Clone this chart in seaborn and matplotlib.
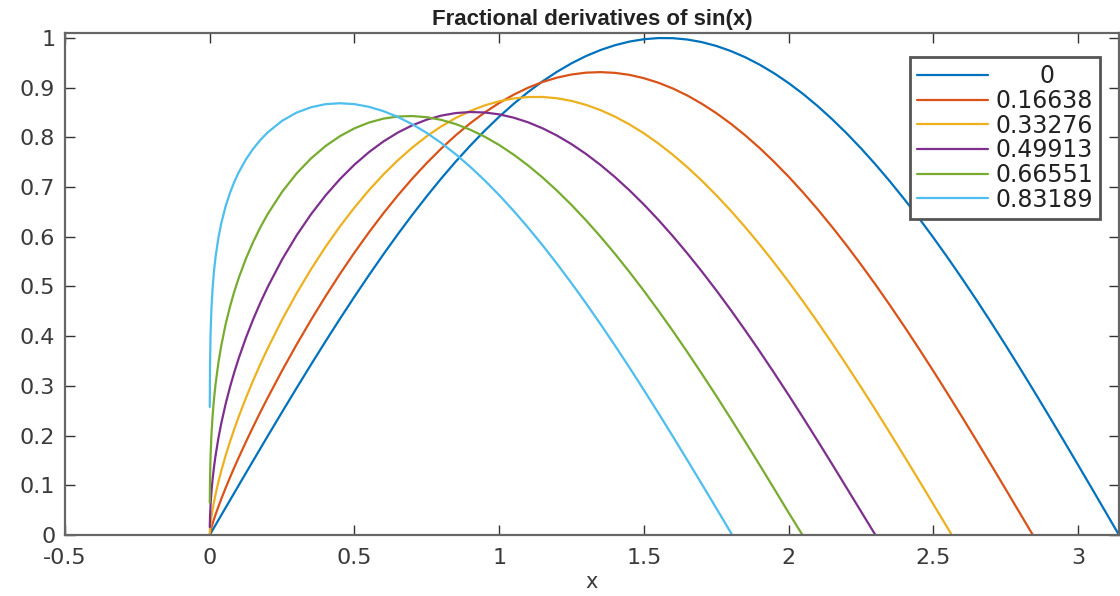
import matplotlib
matplotlib.use("Agg")
import matplotlib.pyplot as plt
import pandas as pd
import seaborn as sns

# Derivative orders shown in the legend and their line colours
orders = ["0", "0.16638", "0.33276", "0.49913", "0.66551", "0.83189"]
colors = ["#0072BD", "#D95319", "#EDB120", "#7E2F8E", "#77AC30", "#4DBEEE"]

# Order 0: sin(x) itself
x_sin = [0.0, 0.05, 0.1, 0.15, 0.2, 0.25, 0.3, 0.35, 0.4, 0.45, 0.5, 0.55, 0.6,
         0.65, 0.7, 0.75, 0.8, 0.85, 0.9, 0.95, 1.0, 1.05, 1.1, 1.15, 1.2, 1.25,
         1.3, 1.35, 1.4, 1.45, 1.5, 1.55, 1.6, 1.65, 1.7, 1.75, 1.8, 1.85, 1.9,
         1.95, 2.0, 2.05, 2.1, 2.15, 2.2, 2.25, 2.3, 2.35, 2.4, 2.45, 2.5, 2.55,
         2.6, 2.65, 2.7, 2.75, 2.8, 2.85, 2.9, 2.95, 3.0, 3.05, 3.1, 3.1416]
y_sin = [0.0, 0.0500, 0.0998, 0.1494, 0.1987, 0.2474, 0.2955, 0.3429, 0.3894,
         0.4350, 0.4794, 0.5227, 0.5646, 0.6052, 0.6442, 0.6816, 0.7174, 0.7513,
         0.7833, 0.8134, 0.8415, 0.8674, 0.8912, 0.9128, 0.9320, 0.9490, 0.9636,
         0.9757, 0.9854, 0.9927, 0.9975, 0.9998, 0.9996, 0.9969, 0.9917, 0.9840,
         0.9738, 0.9613, 0.9463, 0.9290, 0.9093, 0.8874, 0.8632, 0.8368, 0.8085,
         0.7781, 0.7457, 0.7115, 0.6755, 0.6378, 0.5985, 0.5577, 0.5155, 0.4720,
         0.4274, 0.3817, 0.3350, 0.2875, 0.2392, 0.1904, 0.1411, 0.0915, 0.0416,
         0.0]

# Sample points shared by the fractional orders (dense near the origin)
x_frac = [0.0002, 0.001, 0.003, 0.006, 0.01, 0.015, 0.02, 0.03, 0.04, 0.055,
          0.07, 0.085, 0.1, 0.125, 0.15, 0.175, 0.2, 0.25, 0.3,
          0.35, 0.4, 0.45, 0.5, 0.55, 0.6, 0.65, 0.7, 0.75, 0.8, 0.85, 0.9,
          0.95, 1.0, 1.05, 1.1, 1.15, 1.2, 1.25, 1.3, 1.35, 1.4, 1.45, 1.5,
          1.55, 1.6, 1.65, 1.7, 1.75, 1.8, 1.85, 1.9, 1.95, 2.0, 2.05, 2.1,
          2.15, 2.2, 2.25, 2.3, 2.35, 2.4, 2.45, 2.5, 2.55, 2.6, 2.65, 2.7,
          2.75, 2.8]

y_d1 = [0.0009, 0.0034, 0.0084, 0.0149, 0.0229, 0.0321, 0.0408, 0.0571, 0.0726,
        0.0947, 0.1157, 0.1360, 0.1556, 0.1872, 0.2177, 0.2472, 0.2758, 0.3307,
        0.3829,
        0.4327, 0.4801, 0.5253, 0.5682, 0.6088, 0.6472, 0.6833, 0.7171, 0.7485,
        0.7776, 0.8042, 0.8284, 0.8500, 0.8692, 0.8858, 0.8999, 0.9114, 0.9202,
        0.9265, 0.9302, 0.9313, 0.9298, 0.9258, 0.9191, 0.9100, 0.8984, 0.8843,
        0.8677, 0.8489, 0.8277, 0.8042, 0.7786, 0.7508, 0.7210, 0.6892, 0.6556,
        0.6201, 0.5830, 0.5442, 0.5040, 0.4623, 0.4194, 0.3752, 0.3300, 0.2839,
        0.2369, 0.1892, 0.1409, 0.0922, 0.0431]
y_d2 = [0.0038, 0.0110, 0.0230, 0.0365, 0.0513, 0.0672, 0.0814, 0.1067, 0.1293,
        0.1598, 0.1876, 0.2135, 0.2378, 0.2756, 0.3108, 0.3438, 0.3750, 0.4331,
        0.4860,
        0.5347, 0.5796, 0.6209, 0.6588, 0.6936, 0.7253, 0.7539, 0.7796, 0.8023,
        0.8221, 0.8390, 0.8531, 0.8643, 0.8727, 0.8783, 0.8812, 0.8813, 0.8787,
        0.8734, 0.8654, 0.8549, 0.8418, 0.8262, 0.8082, 0.7878, 0.7651, 0.7401,
        0.7130, 0.6838, 0.6526, 0.6195, 0.5846, 0.5479, 0.5097, 0.4699, 0.4287,
        0.3861, 0.3425, 0.2977, 0.2520, 0.2054, 0.1582, 0.1103, 0.0620]
y_d3 = [0.0158, 0.0355, 0.0615, 0.0870, 0.1124, 0.1377, 0.1590, 0.1948, 0.2249,
        0.2637, 0.2975, 0.3276, 0.3552, 0.3966, 0.4337, 0.4675, 0.4986, 0.5542,
        0.6026,
        0.6453, 0.6830, 0.7161, 0.7451, 0.7702, 0.7917, 0.8097, 0.8243, 0.8357,
        0.8438, 0.8489, 0.8510, 0.8501, 0.8463, 0.8397, 0.8303, 0.8183, 0.8036,
        0.7864, 0.7667, 0.7446, 0.7202, 0.6936, 0.6649, 0.6341, 0.6013, 0.5667,
        0.5304, 0.4924, 0.4529, 0.4119, 0.3697, 0.3262, 0.2817, 0.2362, 0.1899,
        0.1429, 0.0953]
y_d4 = [0.0649, 0.1111, 0.1605, 0.2023, 0.2400, 0.2749, 0.3026, 0.3465, 0.3814,
        0.4241, 0.4594, 0.4899, 0.5168, 0.5559, 0.5895, 0.6191, 0.6454, 0.6904,
        0.7273,
        0.7576, 0.7825, 0.8025, 0.8182, 0.8298, 0.8377, 0.8420, 0.8429, 0.8406,
        0.8352, 0.8268, 0.8155, 0.8014, 0.7847, 0.7653, 0.7435, 0.7193, 0.6927,
        0.6640, 0.6332, 0.6004, 0.5658, 0.5293, 0.4913, 0.4516, 0.4106, 0.3682,
        0.3246, 0.2800, 0.2344, 0.1880, 0.1409, 0.0932, 0.0451]
y_d5 = [0.2577, 0.3376, 0.4061, 0.4563, 0.4973, 0.5323, 0.5585, 0.5979, 0.6274,
        0.6615, 0.6883, 0.7105, 0.7294, 0.7556, 0.7770, 0.7948, 0.8099, 0.8333,
        0.8498,
        0.8606, 0.8668, 0.8687, 0.8669, 0.8615, 0.8528, 0.8411, 0.8264, 0.8089,
        0.7887, 0.7660, 0.7409, 0.7135, 0.6839, 0.6522, 0.6185, 0.5829, 0.5456,
        0.5067, 0.4663, 0.4244, 0.3813, 0.3370, 0.2917, 0.2455, 0.1985, 0.1508,
        0.1027, 0.0541, 0.0052]

# Where each fractional curve comes down to zero
zeros_frac = [2.844, 2.564, 2.300, 2.048, 1.805]

x_ticks = [-0.5, 0, 0.5, 1, 1.5, 2, 2.5, 3]
x_tick_labels = ["-0.5", "0", "0.5", "1", "1.5", "2", "2.5", "3"]
y_ticks = [0, 0.1, 0.2, 0.3, 0.4, 0.5, 0.6, 0.7, 0.8, 0.9, 1]
y_tick_labels = ["0", "0.1", "0.2", "0.3", "0.4", "0.5", "0.6", "0.7", "0.8",
                 "0.9", "1"]

# Long-form table: one row per sample point
rows = [{"order": orders[0], "x": x, "y": y} for x, y in zip(x_sin, y_sin)]
for order, ys, x0 in zip(orders[1:], [y_d1, y_d2, y_d3, y_d4, y_d5], zeros_frac):
    xs = x_frac[:len(ys)] + [x0]
    for x, y in zip(xs, ys + [0.0]):
        rows.append({"order": order, "x": x, "y": y})
df = pd.DataFrame(rows)

sns.set_theme(style="white")
plt.rcParams["font.family"] = ["DejaVu Sans"]

fig = plt.figure(figsize=(11.2, 5.96), dpi=100)
ax = fig.add_axes([65 / 1120, 61 / 596, 1054 / 1120, 502 / 596])

sns.lineplot(data=df, x="x", y="y", hue="order", hue_order=orders,
             palette=colors, estimator=None, sort=False, linewidth=1.6,
             legend=False, ax=ax)

ax.set_xlim(-0.5, 3.1416)
ax.set_ylim(0, 1.01)
ax.set_xticks(x_ticks)
ax.set_xticklabels(x_tick_labels)
ax.set_yticks(y_ticks)
ax.set_yticklabels(y_tick_labels)

for spine in ax.spines.values():
    spine.set_visible(True)
    spine.set_color("#666666")
    spine.set_linewidth(1.6)

ax.tick_params(direction="in", length=7, width=1.0, color="#333333",
               labelcolor="#3a3a3a", labelsize=16, top=True, right=True,
               bottom=True, left=True)
ax.tick_params(axis="x", pad=9)
ax.tick_params(axis="y", pad=7)

ax.set_title("Fractional derivatives of sin(x)", fontsize=16,
             fontweight="bold", family="Liberation Sans", color="#222222", pad=6)
ax.set_xlabel("x", fontsize=15, color="#3a3a3a", labelpad=3)
ax.set_ylabel("")

handles = ax.get_lines()[:len(orders)]
leg = ax.legend(handles, [o.rjust(7) for o in orders], loc="upper right",
                bbox_to_anchor=(0.982, 0.952), borderaxespad=0,
                prop={"family": "DejaVu Sans", "size": 17},
                handlelength=3.0, handletextpad=0.3, labelspacing=0.03,
                borderpad=0.3, frameon=True, fancybox=False,
                edgecolor="#555555", framealpha=1)
leg.get_frame().set_linewidth(2)
for t in leg.get_texts():
    t.set_color("#222222")

fig.savefig("out.png", dpi=100)
